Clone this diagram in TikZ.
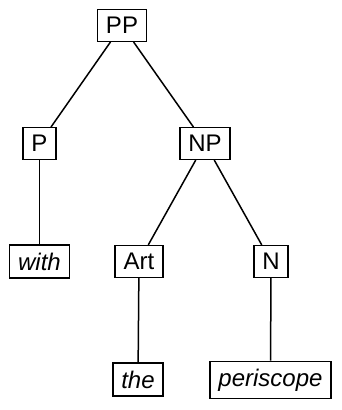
\documentclass[tikz,border=0pt]{standalone}
\usepackage{fontspec}
\setmainfont{Liberation Sans}
\usepackage{tikz}

\begin{document}
\begin{tikzpicture}[x=1pt,y=-1pt,line width=1.5pt,font=\fontsize{24}{28}\selectfont,
  cat/.style={draw,inner xsep=8.5pt,inner ysep=7.5pt},
  word/.style={cat,font=\fontsize{24}{28}\selectfont\itshape}]
\useasboundingbox (0,0) rectangle (342,410);
\node[cat] (pp) at (122,25.5) {PP};
\node[cat] (p) at (39.5,143.5) {P};
\node[cat] (np) at (205,143.5) {NP};
\node[word] (with) at (39.5,261.5) {with};
\node[cat] (art) at (139,261.5) {Art};
\node[cat] (n) at (271,261.5) {N};
\node[word] (the) at (138,379.5) {the};
\node[word] (peri) at (270.5,380) {periscope};
\draw (pp) -- (p);
\draw (pp) -- (np);
\draw (p) -- (with);
\draw (np) -- (art);
\draw (np) -- (n);
\draw (art) -- (the);
\draw (n) -- (peri);
\end{tikzpicture}
\end{document}
